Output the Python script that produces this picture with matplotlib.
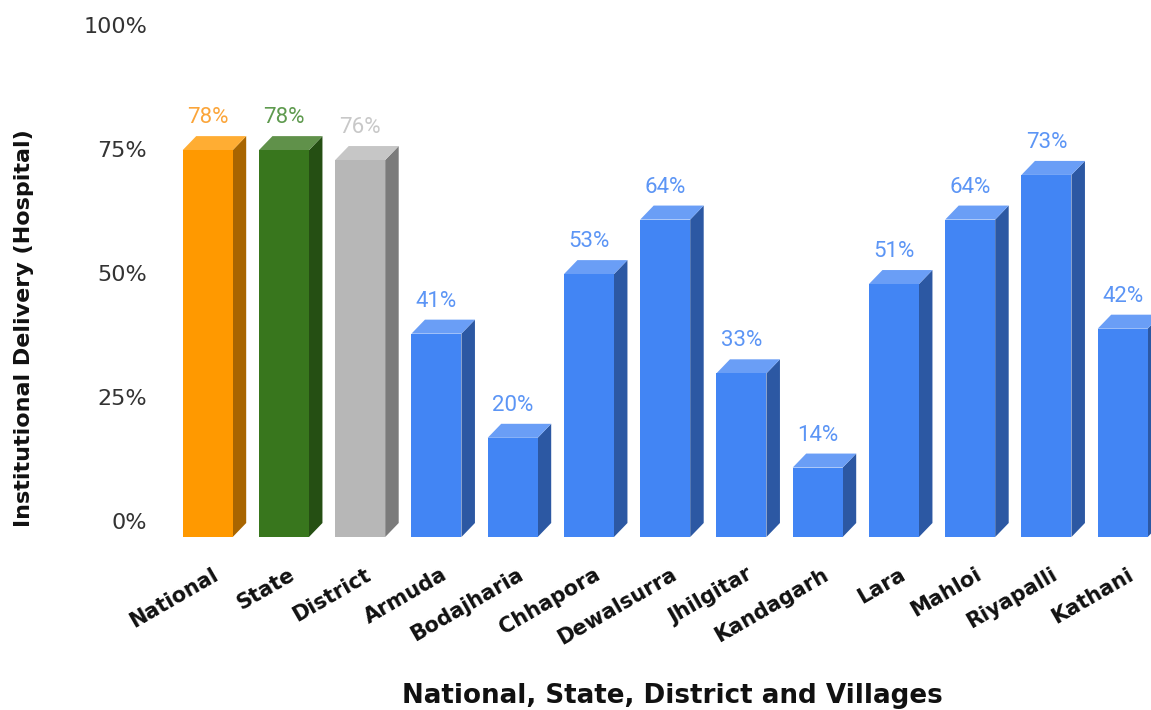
import matplotlib
matplotlib.use("Agg")
import matplotlib.pyplot as plt
from matplotlib.patches import Polygon

# Data
categories = ["National", "State", "District", "Armuda", "Bodajharia", "Chhapora",
              "Dewalsurra", "Jhilgitar", "Kandagarh", "Lara", "Mahloi", "Riyapalli", "Kathani"]
values = [78, 78, 76, 41, 20, 53, 64, 33, 14, 51, 64, 73, 42]
y_ticks = [0, 25, 50, 75, 100]
y_tick_labels = ["0%", "25%", "50%", "75%", "100%"]

# Colour scheme: (front, top, side, label)
orange = ("#FF9900", "#FFAD33", "#A86500", "#FBA53A")
green = ("#38761D", "#60914A", "#254F13", "#5E9A4E")
grey = ("#B7B7B7", "#C6C6C6", "#7B7B7B", "#C8C8C8")
blue = ("#4285F4", "#6A9EF6", "#2C58A3", "#5C95F5")
bar_styles = [orange, green, grey] + [blue] * 10

W, H, DPI = 1151, 710, 100
fig = plt.figure(figsize=(W / DPI, H / DPI), dpi=DPI)

# Axes: back plane of the 3D bars
step_px = 76.25
x0_px = 221.2 - 0.5 * step_px
ax = fig.add_axes([x0_px / W, (H - 523) / H, (W - x0_px) / W, 496 / H])
ax.set_xlim(-0.5, -0.5 + (W - x0_px) / step_px)
ax.set_ylim(0, 100)
ax.axis("off")

# depth offset of the front face (pixels)
depth_dx_px, depth_dy_px = -13.5, -14.0
bar_w = 50 / step_px

fig.canvas.draw()
inv = ax.transData.inverted()
o = inv.transform((0, 0))
d = inv.transform((depth_dx_px, depth_dy_px)) - o
ddx, ddy = d[0], d[1]

for i, (v, st) in enumerate(zip(values, bar_styles)):
    front, top, side, lab = st
    bl, br = i - bar_w / 2, i + bar_w / 2
    b_tl, b_tr, b_br = (bl, v), (br, v), (br, 0)
    f_tl, f_tr = (bl + ddx, v + ddy), (br + ddx, v + ddy)
    f_bl, f_br = (bl + ddx, ddy), (br + ddx, ddy)
    ax.add_patch(Polygon([f_tr, b_tr, b_br, f_br], closed=True, facecolor=side,
                         edgecolor="none", clip_on=False))
    ax.add_patch(Polygon([f_tl, f_tr, b_tr, b_tl], closed=True, facecolor=top,
                         edgecolor="none", clip_on=False))
    ax.add_patch(Polygon([f_bl, f_br, f_tr, f_tl], closed=True, facecolor=front,
                         edgecolor="none", clip_on=False))
    ax.annotate(f"{v}%", xy=(i + ddx, v), xytext=(0, 13), textcoords="offset pixels",
                ha="center", va="baseline", color=lab, fontsize=16, family="Roboto",
                annotation_clip=False)

# y tick labels
for t, tl in zip(y_ticks, y_tick_labels):
    ax.annotate(tl, xy=(-0.5, t), xytext=(-183.1 + 147, 0), textcoords="offset pixels",
                ha="right", va="center", color="#333333", fontsize=16,
                family="DejaVu Sans", annotation_clip=False)

# category labels
for i, c in enumerate(categories):
    ax.annotate(c, xy=(i, 0), xytext=(-4, -50), textcoords="offset pixels",
                ha="right", va="center", rotation=30, rotation_mode="anchor",
                fontsize=15, fontweight="bold", family="DejaVu Sans", color="#111111",
                annotation_clip=False)

fig.text(672 / W, 1 - 696 / H, "National, State, District and Villages", ha="center",
         va="center", fontsize=18.8, fontweight="bold", family="DejaVu Sans", color="#111111")
fig.text(24 / W, 1 - 328 / H, "Institutional Delivery (Hospital)", ha="center", va="center",
         rotation=90, fontsize=16, fontweight="bold", family="DejaVu Sans", color="#111111")

fig.savefig("out.png", dpi=DPI)
